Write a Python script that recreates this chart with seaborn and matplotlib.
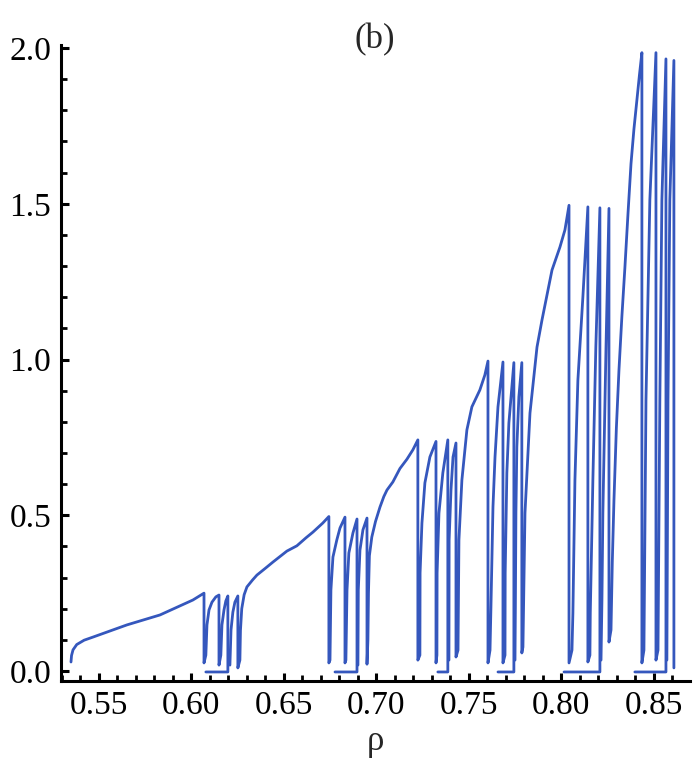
import matplotlib
matplotlib.use("Agg")
import matplotlib.pyplot as plt
import numpy as np
import pandas as pd
import seaborn as sns
from matplotlib.ticker import MultipleLocator, FormatStrFormatter

# ---- data (rho, value) ----
branch1_rho = [0.5349, 0.5352, 0.5360, 0.5380, 0.5420, 0.5468, 0.5651, 0.5830, 0.6008, 0.6068, 0.6068,
               0.6078, 0.6084, 0.6095, 0.6111, 0.6132, 0.6149, 0.6149,
               0.6159, 0.6165, 0.6176, 0.6186, 0.6197, 0.6197, 0.6078]
branch1_val = [0.029, 0.050, 0.068, 0.085, 0.099, 0.109, 0.148, 0.180, 0.228, 0.250, 0.026,
               0.051, 0.148, 0.196, 0.221, 0.238, 0.244, 0.019,
               0.051, 0.148, 0.196, 0.225, 0.241, -0.003, -0.003]

branch2_rho = [0.6208, 0.6214, 0.6224, 0.6235, 0.6251, 0.6251,
               0.6262, 0.6265, 0.6272, 0.6285, 0.6300, 0.6330, 0.6354, 0.6400, 0.6441, 0.6516,
               0.6570, 0.6620, 0.6657, 0.6710, 0.6743, 0.6743,
               0.6749, 0.6754, 0.6765, 0.6786, 0.6803, 0.6830, 0.6830,
               0.6835, 0.6841, 0.6851, 0.6873, 0.6895, 0.6895, 0.6776]
branch2_val = [0.019, 0.132, 0.189, 0.221, 0.241, 0.010,
               0.035, 0.130, 0.200, 0.245, 0.270, 0.292, 0.308, 0.330, 0.350, 0.385,
               0.402, 0.428, 0.446, 0.475, 0.496, 0.026,
               0.035, 0.260, 0.366, 0.421, 0.459, 0.494, 0.026,
               0.035, 0.260, 0.379, 0.443, 0.488, -0.003, -0.003]

branch3_rho = [0.6900, 0.6902, 0.6911, 0.6927, 0.6949, 0.6949,
               0.6954, 0.6957, 0.6962, 0.6975, 0.6995, 0.7019, 0.7040, 0.7057, 0.7089,
               0.7127, 0.7165, 0.7197, 0.7224, 0.7224,
               0.7235, 0.7236, 0.7246, 0.7262, 0.7289, 0.7322, 0.7322,
               0.7327, 0.7328, 0.7338, 0.7359, 0.7386, 0.7386, 0.7332]
branch3_val = [0.019, 0.260, 0.388, 0.453, 0.491, 0.022,
               0.100, 0.250, 0.370, 0.430, 0.480, 0.526, 0.560, 0.581, 0.607,
               0.650, 0.680, 0.710, 0.742, 0.035,
               0.051, 0.315, 0.475, 0.604, 0.687, 0.737, 0.026,
               0.051, 0.315, 0.507, 0.636, 0.742, -0.003, -0.003]

branch4_rho = [0.7392, 0.7393, 0.7403, 0.7414, 0.7430, 0.7430,
               0.7441, 0.7446, 0.7462, 0.7489, 0.7516, 0.7559, 0.7586, 0.7603, 0.7603,
               0.7614, 0.7619, 0.7630, 0.7641, 0.7657, 0.7684, 0.7684,
               0.7695, 0.7696, 0.7705, 0.7716, 0.7743, 0.7743, 0.7657]
branch4_val = [0.035, 0.421, 0.581, 0.687, 0.732, 0.045,
               0.067, 0.421, 0.613, 0.774, 0.848, 0.902, 0.950, 0.995, 0.026,
               0.067, 0.205, 0.527, 0.687, 0.848, 0.992, 0.026,
               0.051, 0.315, 0.636, 0.796, 0.990, -0.003, -0.003]

branch5_rho = [0.7749, 0.7751, 0.7754, 0.7759, 0.7770, 0.7786, 0.7786,
               0.7792, 0.7803, 0.7830, 0.7868, 0.7895, 0.7949, 0.7992, 0.8019, 0.8041, 0.8041,
               0.8057, 0.8062, 0.8073, 0.8089, 0.8116, 0.8143, 0.8143,
               0.8154, 0.8156, 0.8170, 0.8186, 0.8208, 0.8208, 0.8014]
branch5_val = [0.035, 0.200, 0.507, 0.719, 0.880, 0.990, 0.058,
               0.077, 0.507, 0.828, 1.040, 1.127, 1.287, 1.361, 1.416, 1.495, 0.026,
               0.067, 0.186, 0.613, 0.934, 1.201, 1.490, 0.029,
               0.051, 0.186, 0.613, 1.040, 1.487, -0.003, -0.003]

branch6_rho = [0.8214, 0.8219, 0.8224, 0.8241, 0.8257, 0.8257,
               0.8268, 0.8275, 0.8284, 0.8297, 0.8311, 0.8327, 0.8343, 0.8360, 0.8376,
               0.8392, 0.8408, 0.8422, 0.8435, 0.8435,
               0.8446, 0.8457, 0.8478, 0.8511, 0.8511,
               0.8522, 0.8532, 0.8543, 0.8565, 0.8565, 0.8397]
branch6_val = [0.035, 0.228, 0.507, 1.040, 1.485, 0.093,
               0.132, 0.350, 0.549, 0.780, 0.966, 1.140, 1.294, 1.470, 1.628,
               1.740, 1.833, 1.915, 1.985, 0.026,
               0.067, 0.870, 1.512, 1.985, 0.035,
               0.067, 0.870, 1.512, 1.965, -0.003, -0.003]

branch7_rho = [0.8570, 0.8576, 0.8586, 0.8608, 0.8608]
branch7_val = [0.035, 0.870, 1.512, 1.960, 0.010]

x_ticks = [0.55, 0.60, 0.65, 0.70, 0.75, 0.80, 0.85]
y_ticks = [0.0, 0.5, 1.0, 1.5, 2.0]

branches = [(branch1_rho, branch1_val), (branch2_rho, branch2_val),
            (branch3_rho, branch3_val), (branch4_rho, branch4_val),
            (branch5_rho, branch5_val), (branch6_rho, branch6_val),
            (branch7_rho, branch7_val)]
df = pd.concat([pd.DataFrame({"rho": r, "val": v, "branch": i})
                for i, (r, v) in enumerate(branches)], ignore_index=True)

sns.set_theme(style="ticks")
plt.rcParams["font.family"] = ["Liberation Serif", "DejaVu Serif"]

fig = plt.figure(figsize=(6.96, 7.70), dpi=100)
ax = fig.add_axes([61 / 696, 1 - 681 / 770, (690 - 61) / 696, (681 - 45) / 770])

sns.lineplot(data=df, x="rho", y="val", units="branch", estimator=None, sort=False,
             color="#3557bd", linewidth=2.0, ax=ax, legend=False)

ax.set_xlim(0.5295, 0.8695)
ax.set_ylim(-0.032, 2.0096)
ax.set_xticks(x_ticks)
ax.set_yticks(y_ticks)
ax.xaxis.set_minor_locator(MultipleLocator(0.01))
ax.yaxis.set_minor_locator(MultipleLocator(0.1))
ax.xaxis.set_major_formatter(FormatStrFormatter("%.2f"))
ax.yaxis.set_major_formatter(FormatStrFormatter("%.1f"))

ax.tick_params(which="major", direction="in", length=6, width=2.2, labelsize=24,
               colors="black", pad=7)
ax.tick_params(which="minor", direction="in", length=4, width=2.0, colors="black")
for s in ["top", "right"]:
    ax.spines[s].set_visible(False)
for s in ["left", "bottom"]:
    ax.spines[s].set_linewidth(2.2)
    ax.spines[s].set_color("black")

ax.set_xlabel("ρ", fontsize=25, labelpad=3)
ax.set_ylabel("")
fig.text(375 / 696, 1 - 40 / 770, "(b)", ha="center", va="center", fontsize=25)

fig.savefig("out.png", dpi=100)
